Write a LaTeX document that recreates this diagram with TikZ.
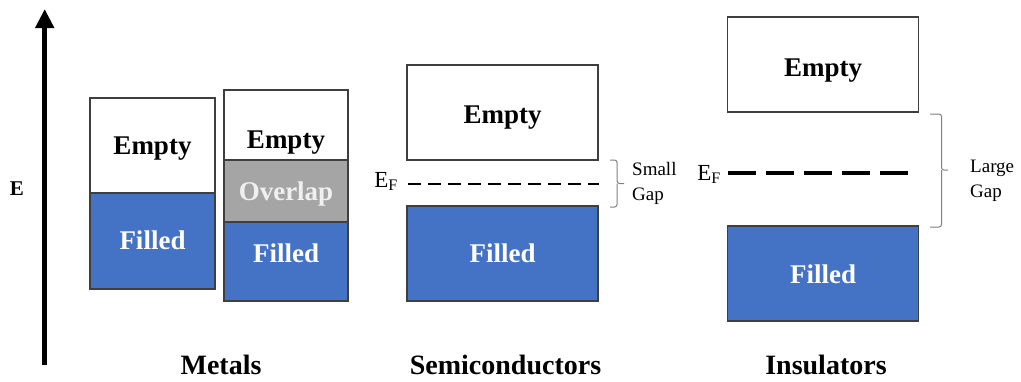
\documentclass[tikz,border=0pt]{standalone}
\usepackage{fontspec}
\setmainfont{Liberation Serif}
\usetikzlibrary{arrows.meta}
\definecolor{bandblue}{HTML}{4472C4}
\definecolor{bandgray}{HTML}{A5A5A5}
\definecolor{bordergray}{HTML}{3F3F3F}
\definecolor{bracegray}{HTML}{808080}
\begin{document}
\begin{tikzpicture}[x=1pt,y=-1pt,
  band/.style={draw=bordergray, line width=1.2pt, inner sep=0pt, outer sep=0pt},
  emptyband/.style={band, fill=white},
  filledband/.style={band, fill=bandblue},
  overlapband/.style={band, fill=bandgray},
  bandtext/.style={inner sep=0pt, text height=17.5pt, text depth=0pt,
    font=\fontsize{27}{30}\selectfont\bfseries},
  caption/.style={inner sep=0pt, anchor=base, font=\fontsize{28}{30}\selectfont\bfseries},
  fermi/.style={inner sep=0pt, anchor=base east, font=\fontsize{23}{26}\selectfont},
  gaptext/.style={inner sep=0pt, anchor=north west, align=left, font=\fontsize{19}{25}\selectfont},
  gapbrace/.style={draw=bracegray, line width=1pt, rounded corners=2.5pt},
]
\useasboundingbox (0,0) rectangle (1021,381);

% energy axis
\coordinate (axbot) at (44.7,365);
\coordinate (axtop) at (44.7,9);
\draw[line width=5pt, -{Triangle[width=18pt,length=19pt]}] (axbot) -- (axtop);
\node[inner sep=0pt, font=\fontsize{21}{24}\selectfont\bfseries] (elabel) at (17,188.5) {E};

% Metals, first box
\node[emptyband, minimum width=125pt, minimum height=95pt] (m1e) at (152.5,145.5) {};
\node[filledband, minimum width=125pt, minimum height=96pt] (m1f) at (152.5,241) {};
\node[bandtext, text=black] (m1et) at (152.5,146) {Empty};
\node[bandtext, text=white] (m1ft) at (152.5,241) {Filled};

% Metals, second box
\node[emptyband, minimum width=124pt, minimum height=70pt] (m2e) at (286,125) {};
\node[overlapband, minimum width=124pt, minimum height=62pt] (m2o) at (286,191) {};
\node[filledband, minimum width=124pt, minimum height=79pt] (m2f) at (286,261.5) {};
\node[bandtext, text=black] (m2et) at (286,140) {Empty};
\node[bandtext, text=white!94!black] (m2ot) at (286,191.5) {Overlap};
\node[bandtext, text=white] (m2ft) at (286,254) {Filled};

% Semiconductors
\node[emptyband, minimum width=191pt, minimum height=95pt] (se) at (502.5,112.5) {};
\node[filledband, minimum width=191pt, minimum height=95pt] (sf) at (502.5,253.5) {};
\node[bandtext, text=black] (set) at (502.5,115) {Empty};
\node[bandtext, text=white] (sft) at (502.5,254) {Filled};
\node[fermi] (sef) at (398,187) {E\textsubscript{F}};
\coordinate (sl1) at (408,184);
\coordinate (sl2) at (599,184);
\draw[line width=1.4pt, dash pattern=on 13pt off 7pt] (sl1) -- (sl2);
\coordinate (sb1) at (610,160);
\coordinate (sbm) at (617,183.5);
\coordinate (sbt) at (624,183.5);
\coordinate (sb2) at (610,207);
\draw[gapbrace] (sb1) -| (sbm) -- (sbt);
\draw[gapbrace] (sbm) |- (sb2);
\node[gaptext] (sgap) at (632,162) {Small\\Gap};

% Insulators
\node[emptyband, minimum width=191pt, minimum height=95pt] (ie) at (823,64.5) {};
\node[filledband, minimum width=191pt, minimum height=95pt] (if) at (823,273.5) {};
\node[bandtext, text=black] (iet) at (823,67.5) {Empty};
\node[bandtext, text=white] (ift) at (823,275) {Filled};
\node[fermi] (ief) at (721,180) {E\textsubscript{F}};
\coordinate (il1) at (728,173);
\coordinate (il2) at (908,173);
\draw[line width=3.6pt, dash pattern=on 28pt off 10pt] (il1) -- (il2);
\coordinate (ib1) at (930,114);
\coordinate (ibm) at (941.5,170);
\coordinate (ibt) at (948,170);
\coordinate (ib2) at (930,227);
\draw[gapbrace] (ib1) -| (ibm) -- (ibt);
\draw[gapbrace] (ibm) |- (ib2);
\node[gaptext] (lgap) at (970,160) {Large\\Gap};

% captions
\node[caption] (cm) at (221,374.5) {Metals};
\node[caption] (cs) at (505.5,374.5) {Semiconductors};
\node[caption] (ci) at (826,374.5) {Insulators};
\end{tikzpicture}
\end{document}
